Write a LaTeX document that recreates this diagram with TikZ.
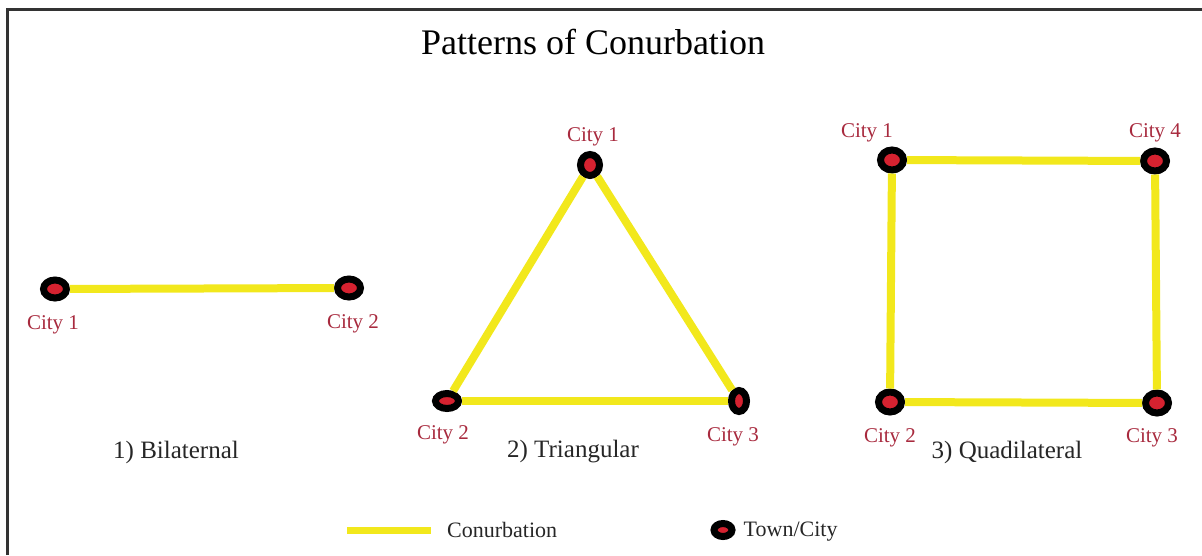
\documentclass[tikz,border=0pt]{standalone}
\usepackage{fontspec}
\setmainfont{Liberation Serif}
\definecolor{conyellow}{RGB}{242,232,28}
\definecolor{cityred}{RGB}{214,34,48}
\definecolor{labred}{RGB}{168,42,62}
\usetikzlibrary{positioning,shapes.geometric}

\begin{document}
\begin{tikzpicture}[
  x=1pt, y=-1pt,
  town/.style={ellipse, draw=black, line width=7pt, fill=cityred,
               inner sep=0pt, minimum width=23pt, minimum height=18pt},
  citylab/.style={inner sep=0pt, text=labred, font=\fontsize{21}{25}\selectfont},
  caption/.style={inner sep=0pt, text=black!85, font=\fontsize{25}{29}\selectfont},
  conurb/.style={draw=conyellow, line width=8pt},
]
\useasboundingbox (0,0) rectangle (1202,555);

% --- frame and title ---
\draw[line width=3pt, black!80] (7,555) -- (7,9) -- (1202,9);
\node[inner sep=0pt, font=\fontsize{36}{42}\selectfont] (title) at (593,42)
  {Patterns of Conurbation};

% --- 1) bilateral ---
\node[town] (b1) at (55,289) {};
\node[town] (b2) at (349,288) {};
\draw[conurb] (b1) -- (b2);
\node[citylab, below=14pt of b1, xshift=-2pt] (b1l) {City 1};
\node[citylab, below=14pt of b2, xshift=4pt] (b2l) {City 2};
\node[caption] (capA) at (176,452) {1) Bilaternal};

% --- 2) triangular ---
\node[town, minimum width=19pt, minimum height=21pt] (t1) at (590,165) {};
\node[town, minimum width=23pt, minimum height=15pt] (t2) at (447,401) {};
\node[town, minimum width=15pt, minimum height=21pt] (t3) at (739,401) {};
\draw[conurb] (t1) -- (t2);
\draw[conurb] (t2) -- (t3);
\draw[conurb] (t3) -- (t1);
\node[citylab, above=5pt of t1, xshift=3pt] (t1l) {City 1};
\node[citylab, below=13pt of t2, xshift=-4pt] (t2l) {City 2};
\node[citylab, below=12pt of t3, xshift=-6pt] (t3l) {City 3};
\node[caption] (capB) at (573,452) {2) Triangular};

% --- 3) quadrilateral ---
\node[town, minimum height=20pt] (q1) at (892,160) {};
\node[town, minimum height=20pt] (q2) at (890,402) {};
\node[town, minimum height=20pt] (q3) at (1157,403) {};
\node[town, minimum height=20pt] (q4) at (1155,161) {};
\draw[conurb] (q1) -- (q4);
\draw[conurb] (q4) -- (q3);
\draw[conurb] (q3) -- (q2);
\draw[conurb] (q2) -- (q1);
\node[citylab, above=4pt of q1, xshift=-25pt] (q1l) {City 1};
\node[citylab, above=5pt of q4] (q4l) {City 4};
\node[citylab, below=13pt of q2] (q2l) {City 2};
\node[citylab, below=12pt of q3, xshift=-5pt] (q3l) {City 3};
\node[caption] (capC) at (1007,452) {3) Quadilateral};

% --- legend ---
\coordinate (legA) at (347,530);
\coordinate (legB) at (431,530);
\draw[conurb, line width=7pt] (legA) -- (legB);
\node[caption, font=\fontsize{22}{26}\selectfont, right=16pt of legB] (legC) {Conurbation};
\node[town, minimum width=18pt, minimum height=13pt] (legT) at (723,530) {};
\node[caption, font=\fontsize{22}{26}\selectfont, right=8pt of legT, yshift=-2pt] (legTl) {Town/City};
\end{tikzpicture}
\end{document}
